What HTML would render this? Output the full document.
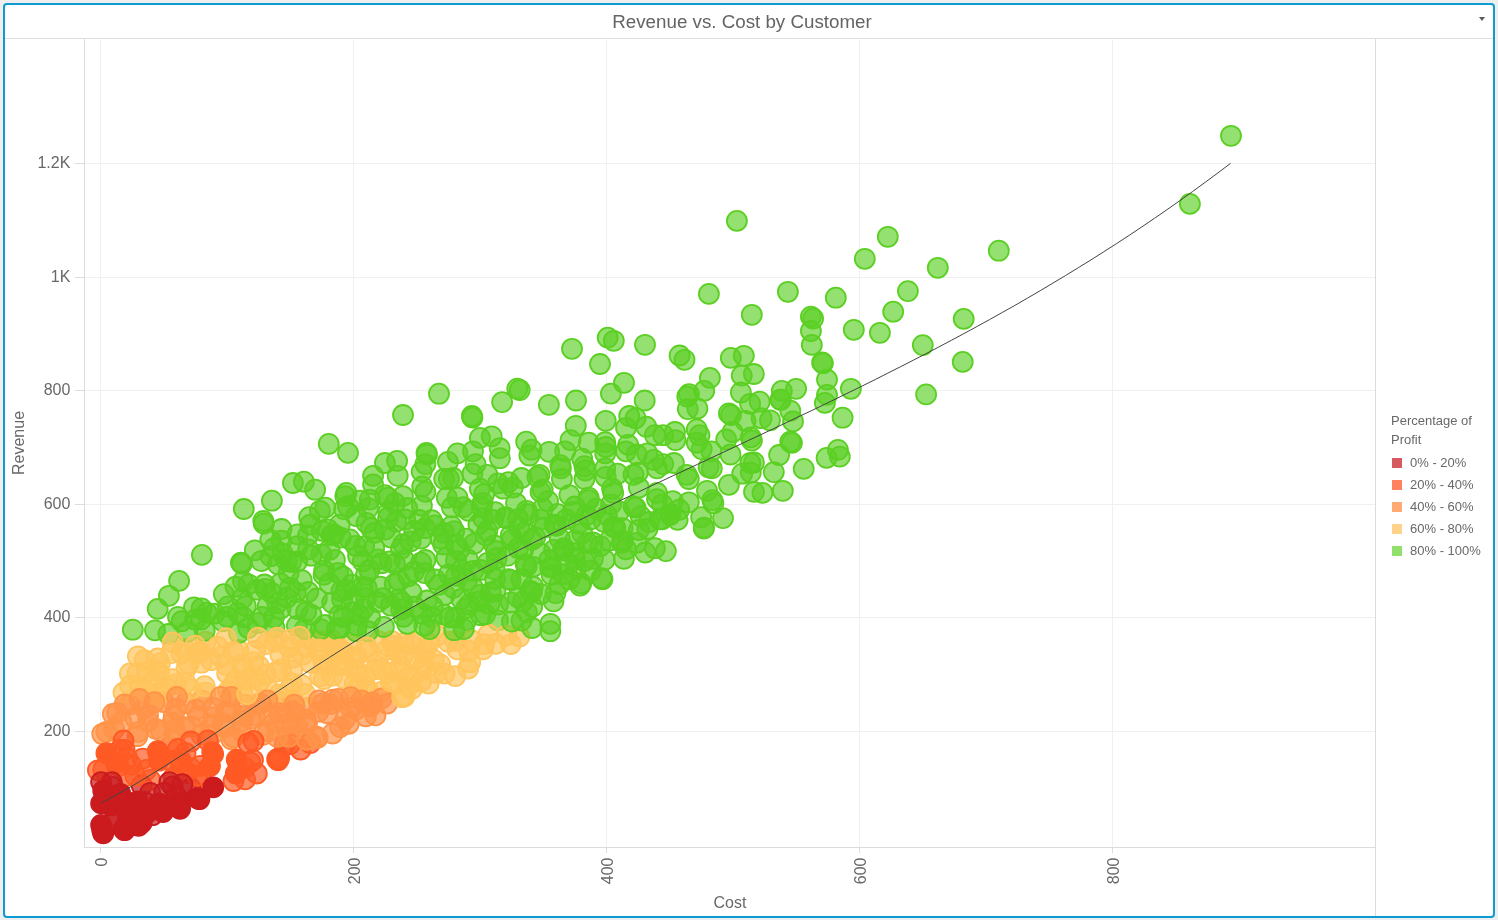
<!DOCTYPE html>
<html lang="en">
<head>
<meta charset="utf-8">
<title>Revenue vs. Cost by Customer</title>
<style>
html,body{margin:0;padding:0;}
body{width:1498px;height:920px;background:#eeeeee;overflow:hidden;position:relative;font-family:"Liberation Sans",Arial,Helvetica,sans-serif;color:#6d6d6d;}
#card{position:absolute;left:3px;top:3px;width:1488px;height:911px;border:2px solid #0d9bd0;border-radius:4px;background:#fff;}
#title{position:absolute;left:0;top:0;width:1488px;height:33px;border-bottom:1px solid #dedede;color:#646464;}
#title span{position:absolute;left:0;top:0;width:1474px;text-align:center;font-size:18.75px;line-height:34px;white-space:nowrap;}
#caret{position:absolute;left:1474px;top:12px;width:0;height:0;border-left:3.6px solid transparent;border-right:3.6px solid transparent;border-top:4px solid #5c5c5c;}
svg{position:absolute;left:0;top:0;}
svg text{font-family:"Liberation Sans",Arial,Helvetica,sans-serif;fill:#686868;}
.ax{font-size:16px;}
.lg{font-size:13px;}
circle{stroke-width:1.8;}
.r{fill:rgba(203,27,31,0.7);stroke:#cb1b1f;}
.o{fill:rgba(255,90,36,0.7);stroke:#ff5a24;}
.a{fill:rgba(255,147,72,0.7);stroke:#ff9348;}
.y{fill:rgba(255,196,92,0.7);stroke:#ffc45c;}
.g{fill:rgba(91,208,35,0.65);stroke:#5bd023;}
.r.s{fill:#cb1b1f;}
.o.s{fill:#ff5a24;}
.a.s{fill:#ff9348;}
.y.s{fill:#ffc45c;}
.g.s{fill:#5bd023;}
</style>
</head>
<body>
<div id="card">
  <div id="title"><span>Revenue vs. Cost by Customer</span></div>
  <div id="caret"></div>
</div>
<svg width="1498" height="920" viewBox="0 0 1498 920">
  <g id="grid" shape-rendering="crispEdges" stroke="#f0f0f0" stroke-width="1" fill="none">
    <path d="M100.5 40V847M353.5 40V847M606.5 40V847M859.5 40V847M1112.5 40V847"/>
    <path d="M85 163.5H1375M85 277.5H1375M85 390.5H1375M85 504.5H1375M85 617.5H1375M85 731.5H1375"/>
  </g>
  <g id="axes" shape-rendering="crispEdges" stroke="#dcdcdc" stroke-width="1" fill="none">
    <path d="M84.5 39V848M1375.5 39V916M84 847.5H1375"/>
    <path d="M75 163.5H84M75 277.5H84M75 390.5H84M75 504.5H84M75 617.5H84M75 731.5H84"/>
    <path d="M100.5 848V853M353.5 848V853M606.5 848V853M859.5 848V853M1112.5 848V853"/>
  </g>
  <g id="ylabels" class="ax" text-anchor="end">
    <text x="70.4" y="168">1.2K</text>
    <text x="70.4" y="282">1K</text>
    <text x="70.4" y="395">800</text>
    <text x="70.4" y="509">600</text>
    <text x="70.4" y="622">400</text>
    <text x="70.4" y="736">200</text>
  </g>
  <g id="xlabels" class="ax" text-anchor="end">
    <text transform="translate(107,857.5) rotate(-90)">0</text>
    <text transform="translate(360,857.5) rotate(-90)">200</text>
    <text transform="translate(613,857.5) rotate(-90)">400</text>
    <text transform="translate(866,857.5) rotate(-90)">600</text>
    <text transform="translate(1119,857.5) rotate(-90)">800</text>
  </g>
  <text class="ax" text-anchor="middle" x="730" y="908">Cost</text>
  <text class="ax" text-anchor="middle" transform="translate(24,443) rotate(-90)">Revenue</text>
  <g id="points">
<circle class="o" cx="168.6" cy="747.4" r="10"/>
<circle class="g" cx="378.0" cy="559.4" r="10"/>
<circle class="y" cx="444.6" cy="673.6" r="10"/>
<circle class="g" cx="342.1" cy="599.3" r="10"/>
<circle class="y" cx="276.7" cy="671.6" r="10"/>
<circle class="y" cx="306.2" cy="647.0" r="10"/>
<circle class="a" cx="213.6" cy="717.3" r="10"/>
<circle class="g" cx="518.0" cy="597.4" r="10"/>
<circle class="g" cx="496.2" cy="551.0" r="10"/>
<circle class="y" cx="344.1" cy="652.4" r="10"/>
<circle class="g" cx="349.8" cy="539.4" r="10"/>
<circle class="g" cx="456.2" cy="544.9" r="10"/>
<circle class="y" cx="140.2" cy="686.7" r="10"/>
<circle class="g" cx="438.7" cy="584.8" r="10"/>
<circle class="g" cx="277.4" cy="603.2" r="10"/>
<circle class="a" cx="129.3" cy="704.7" r="10"/>
<circle class="g" cx="487.4" cy="530.9" r="10"/>
<circle class="g" cx="267.7" cy="605.7" r="10"/>
<circle class="y" cx="448.3" cy="641.9" r="10"/>
<circle class="g" cx="344.1" cy="509.1" r="10"/>
<circle class="y" cx="352.7" cy="658.9" r="10"/>
<circle class="g" cx="419.2" cy="520.0" r="10"/>
<circle class="g" cx="495.4" cy="591.0" r="10"/>
<circle class="g" cx="404.4" cy="560.1" r="10"/>
<circle class="g" cx="532.9" cy="586.5" r="10"/>
<circle class="g" cx="443.8" cy="532.8" r="10"/>
<circle class="y" cx="184.2" cy="649.0" r="10"/>
<circle class="g" cx="385.1" cy="529.6" r="10"/>
<circle class="y" cx="365.4" cy="686.8" r="10"/>
<circle class="g" cx="286.8" cy="597.7" r="10"/>
<circle class="g" cx="619.2" cy="511.5" r="10"/>
<circle class="a" cx="230.6" cy="709.8" r="10"/>
<circle class="g" cx="551.6" cy="574.9" r="10"/>
<circle class="y" cx="377.4" cy="661.7" r="10"/>
<circle class="y" cx="423.2" cy="665.9" r="10"/>
<circle class="g" cx="421.1" cy="562.7" r="10"/>
<circle class="g" cx="540.8" cy="594.0" r="10"/>
<circle class="g" cx="403.6" cy="616.9" r="10"/>
<circle class="g" cx="401.2" cy="609.4" r="10"/>
<circle class="y" cx="320.9" cy="641.5" r="10"/>
<circle class="g" cx="280.6" cy="608.7" r="10"/>
<circle class="g" cx="586.6" cy="515.1" r="10"/>
<circle class="g" cx="347.9" cy="506.2" r="10"/>
<circle class="y" cx="433.8" cy="659.8" r="10"/>
<circle class="g" cx="640.6" cy="516.1" r="10"/>
<circle class="g" cx="410.6" cy="541.4" r="10"/>
<circle class="g" cx="370.2" cy="617.6" r="10"/>
<circle class="g" cx="487.5" cy="562.9" r="10"/>
<circle class="g" cx="371.1" cy="528.2" r="10"/>
<circle class="g" cx="328.1" cy="529.5" r="10"/>
<circle class="g" cx="498.0" cy="620.4" r="10"/>
<circle class="a" cx="212.1" cy="734.8" r="10"/>
<circle class="g" cx="195.1" cy="619.6" r="10"/>
<circle class="y" cx="381.1" cy="668.9" r="10"/>
<circle class="y" cx="388.0" cy="672.6" r="10"/>
<circle class="g" cx="444.9" cy="594.8" r="10"/>
<circle class="y" cx="246.8" cy="679.9" r="10"/>
<circle class="g" cx="296.9" cy="625.8" r="10"/>
<circle class="o" cx="146.2" cy="770.0" r="10"/>
<circle class="g" cx="366.0" cy="597.8" r="10"/>
<circle class="g" cx="533.0" cy="566.9" r="10"/>
<circle class="g" cx="245.9" cy="606.0" r="10"/>
<circle class="y" cx="343.3" cy="665.4" r="10"/>
<circle class="g" cx="405.2" cy="519.5" r="10"/>
<circle class="g" cx="346.1" cy="589.8" r="10"/>
<circle class="g" cx="391.0" cy="537.6" r="10"/>
<circle class="y" cx="323.0" cy="660.0" r="10"/>
<circle class="g" cx="490.7" cy="592.4" r="10"/>
<circle class="g" cx="446.4" cy="557.8" r="10"/>
<circle class="g" cx="574.7" cy="558.0" r="10"/>
<circle class="r" cx="170.5" cy="805.2" r="10"/>
<circle class="y" cx="292.7" cy="657.7" r="10"/>
<circle class="y" cx="130.2" cy="685.6" r="10"/>
<circle class="g" cx="480.5" cy="594.8" r="10"/>
<circle class="g" cx="425.5" cy="560.0" r="10"/>
<circle class="r" cx="176.3" cy="796.2" r="10"/>
<circle class="g" cx="424.7" cy="573.1" r="10"/>
<circle class="g" cx="369.8" cy="499.7" r="10"/>
<circle class="g" cx="443.9" cy="614.6" r="10"/>
<circle class="g" cx="466.5" cy="620.1" r="10"/>
<circle class="y" cx="428.5" cy="643.7" r="10"/>
<circle class="y" cx="330.8" cy="644.3" r="10"/>
<circle class="a" cx="318.4" cy="711.9" r="10"/>
<circle class="g" cx="363.5" cy="608.8" r="10"/>
<circle class="a" cx="175.0" cy="735.4" r="10"/>
<circle class="o" cx="119.6" cy="749.9" r="10"/>
<circle class="a" cx="292.3" cy="700.1" r="10"/>
<circle class="y" cx="395.7" cy="650.8" r="10"/>
<circle class="g" cx="329.5" cy="549.8" r="10"/>
<circle class="o" cx="200.8" cy="779.1" r="10"/>
<circle class="g" cx="431.9" cy="617.0" r="10"/>
<circle class="y" cx="292.1" cy="683.4" r="10"/>
<circle class="g" cx="381.6" cy="563.2" r="10"/>
<circle class="y" cx="357.3" cy="688.9" r="10"/>
<circle class="y" cx="172.7" cy="679.2" r="10"/>
<circle class="g" cx="466.9" cy="580.4" r="10"/>
<circle class="r" cx="144.8" cy="801.9" r="10"/>
<circle class="o" cx="187.4" cy="772.9" r="10"/>
<circle class="g" cx="274.4" cy="627.7" r="10"/>
<circle class="y" cx="253.3" cy="662.1" r="10"/>
<circle class="g" cx="332.2" cy="602.8" r="10"/>
<circle class="g" cx="366.5" cy="522.9" r="10"/>
<circle class="y" cx="266.2" cy="644.1" r="10"/>
<circle class="g" cx="559.5" cy="584.4" r="10"/>
<circle class="g" cx="407.1" cy="508.0" r="10"/>
<circle class="y" cx="393.6" cy="684.7" r="10"/>
<circle class="g" cx="396.3" cy="521.6" r="10"/>
<circle class="o" cx="118.5" cy="766.1" r="10"/>
<circle class="y" cx="415.4" cy="642.6" r="10"/>
<circle class="g" cx="523.0" cy="601.2" r="10"/>
<circle class="y" cx="302.6" cy="654.7" r="10"/>
<circle class="g" cx="563.3" cy="574.5" r="10"/>
<circle class="g" cx="544.3" cy="527.6" r="10"/>
<circle class="g" cx="297.1" cy="561.5" r="10"/>
<circle class="y" cx="144.5" cy="660.1" r="10"/>
<circle class="r" cx="128.0" cy="819.4" r="10"/>
<circle class="g" cx="622.6" cy="528.1" r="10"/>
<circle class="y" cx="238.3" cy="649.9" r="10"/>
<circle class="g" cx="358.1" cy="556.0" r="10"/>
<circle class="a" cx="307.0" cy="707.8" r="10"/>
<circle class="y" cx="188.7" cy="663.5" r="10"/>
<circle class="y" cx="301.5" cy="684.8" r="10"/>
<circle class="r" cx="116.7" cy="796.6" r="10"/>
<circle class="a" cx="241.5" cy="730.7" r="10"/>
<circle class="g" cx="382.8" cy="598.2" r="10"/>
<circle class="y" cx="220.5" cy="656.9" r="10"/>
<circle class="a" cx="292.4" cy="724.4" r="10"/>
<circle class="g" cx="316.8" cy="598.5" r="10"/>
<circle class="y" cx="228.0" cy="691.1" r="10"/>
<circle class="g" cx="352.1" cy="612.1" r="10"/>
<circle class="a" cx="356.3" cy="709.4" r="10"/>
<circle class="a" cx="297.1" cy="726.7" r="10"/>
<circle class="g" cx="343.1" cy="576.6" r="10"/>
<circle class="y" cx="337.4" cy="665.1" r="10"/>
<circle class="g" cx="389.7" cy="561.3" r="10"/>
<circle class="g" cx="369.4" cy="570.0" r="10"/>
<circle class="y" cx="333.1" cy="657.6" r="10"/>
<circle class="y" cx="351.2" cy="645.1" r="10"/>
<circle class="g" cx="443.2" cy="544.5" r="10"/>
<circle class="y" cx="290.8" cy="639.7" r="10"/>
<circle class="y" cx="420.5" cy="670.8" r="10"/>
<circle class="g" cx="359.2" cy="615.2" r="10"/>
<circle class="g" cx="402.2" cy="602.8" r="10"/>
<circle class="y" cx="356.5" cy="656.3" r="10"/>
<circle class="a" cx="278.9" cy="701.6" r="10"/>
<circle class="a" cx="155.8" cy="728.9" r="10"/>
<circle class="y" cx="210.8" cy="660.2" r="10"/>
<circle class="y" cx="244.7" cy="669.9" r="10"/>
<circle class="a" cx="256.0" cy="704.3" r="10"/>
<circle class="g" cx="356.1" cy="516.0" r="10"/>
<circle class="g" cx="398.9" cy="599.2" r="10"/>
<circle class="o" cx="127.1" cy="757.7" r="10"/>
<circle class="g" cx="388.5" cy="512.0" r="10"/>
<circle class="g" cx="489.5" cy="604.1" r="10"/>
<circle class="g" cx="399.2" cy="580.7" r="10"/>
<circle class="y" cx="378.9" cy="641.4" r="10"/>
<circle class="g" cx="451.6" cy="526.2" r="10"/>
<circle class="a" cx="135.4" cy="718.0" r="10"/>
<circle class="g" cx="523.2" cy="549.7" r="10"/>
<circle class="o" cx="200.4" cy="765.8" r="10"/>
<circle class="g" cx="578.4" cy="523.6" r="10"/>
<circle class="g" cx="461.5" cy="570.2" r="10"/>
<circle class="y" cx="408.3" cy="686.4" r="10"/>
<circle class="g" cx="482.6" cy="502.8" r="10"/>
<circle class="y" cx="258.8" cy="665.9" r="10"/>
<circle class="a" cx="262.9" cy="734.9" r="10"/>
<circle class="y" cx="205.2" cy="692.7" r="10"/>
<circle class="y" cx="495.7" cy="643.9" r="10"/>
<circle class="r" cx="141.7" cy="785.5" r="10"/>
<circle class="o" cx="127.1" cy="775.9" r="10"/>
<circle class="a" cx="114.1" cy="729.2" r="10"/>
<circle class="g" cx="468.5" cy="510.9" r="10"/>
<circle class="y" cx="392.0" cy="641.1" r="10"/>
<circle class="g" cx="414.2" cy="571.3" r="10"/>
<circle class="y" cx="166.3" cy="687.9" r="10"/>
<circle class="y" cx="255.6" cy="676.9" r="10"/>
<circle class="a" cx="172.6" cy="722.5" r="10"/>
<circle class="y" cx="205.6" cy="641.7" r="10"/>
<circle class="g" cx="456.1" cy="575.8" r="10"/>
<circle class="a" cx="268.4" cy="731.2" r="10"/>
<circle class="g" cx="394.9" cy="563.9" r="10"/>
<circle class="y" cx="320.1" cy="676.2" r="10"/>
<circle class="y" cx="344.3" cy="678.2" r="10"/>
<circle class="g" cx="473.5" cy="588.7" r="10"/>
<circle class="y" cx="399.0" cy="671.5" r="10"/>
<circle class="y" cx="151.8" cy="681.6" r="10"/>
<circle class="g" cx="459.2" cy="549.7" r="10"/>
<circle class="g" cx="390.9" cy="605.7" r="10"/>
<circle class="g" cx="295.8" cy="592.4" r="10"/>
<circle class="y" cx="368.4" cy="651.7" r="10"/>
<circle class="g" cx="257.7" cy="623.2" r="10"/>
<circle class="a" cx="332.9" cy="699.7" r="10"/>
<circle class="g" cx="395.0" cy="503.1" r="10"/>
<circle class="g" cx="340.8" cy="537.6" r="10"/>
<circle class="a" cx="285.0" cy="713.1" r="10"/>
<circle class="y" cx="423.0" cy="652.8" r="10"/>
<circle class="g" cx="339.2" cy="615.4" r="10"/>
<circle class="g" cx="343.4" cy="617.3" r="10"/>
<circle class="g" cx="228.0" cy="606.4" r="10"/>
<circle class="a" cx="186.1" cy="702.8" r="10"/>
<circle class="y" cx="358.6" cy="672.8" r="10"/>
<circle class="g" cx="377.8" cy="602.0" r="10"/>
<circle class="y" cx="274.8" cy="641.9" r="10"/>
<circle class="g" cx="368.1" cy="508.1" r="10"/>
<circle class="y" cx="292.1" cy="670.7" r="10"/>
<circle class="a" cx="224.7" cy="727.1" r="10"/>
<circle class="y" cx="323.9" cy="679.0" r="10"/>
<circle class="g" cx="427.0" cy="600.5" r="10"/>
<circle class="g" cx="262.2" cy="617.0" r="10"/>
<circle class="g" cx="308.0" cy="535.4" r="10"/>
<circle class="y" cx="280.4" cy="654.4" r="10"/>
<circle class="y" cx="311.0" cy="640.0" r="10"/>
<circle class="y" cx="332.3" cy="675.7" r="10"/>
<circle class="y" cx="332.1" cy="640.3" r="10"/>
<circle class="g" cx="649.0" cy="522.0" r="10"/>
<circle class="g" cx="414.1" cy="531.0" r="10"/>
<circle class="g" cx="365.9" cy="575.1" r="10"/>
<circle class="g" cx="480.3" cy="570.0" r="10"/>
<circle class="y" cx="324.1" cy="664.3" r="10"/>
<circle class="o" cx="185.5" cy="752.9" r="10"/>
<circle class="g" cx="495.3" cy="512.1" r="10"/>
<circle class="g" cx="448.9" cy="574.3" r="10"/>
<circle class="g" cx="494.5" cy="569.3" r="10"/>
<circle class="y" cx="469.2" cy="651.0" r="10"/>
<circle class="y" cx="355.0" cy="669.1" r="10"/>
<circle class="y" cx="279.5" cy="694.3" r="10"/>
<circle class="y" cx="181.4" cy="653.6" r="10"/>
<circle class="r" cx="112.9" cy="787.0" r="10"/>
<circle class="g" cx="485.7" cy="535.3" r="10"/>
<circle class="y" cx="265.6" cy="674.4" r="10"/>
<circle class="g" cx="478.4" cy="524.6" r="10"/>
<circle class="g" cx="493.1" cy="519.8" r="10"/>
<circle class="a" cx="163.4" cy="702.0" r="10"/>
<circle class="g" cx="554.2" cy="549.8" r="10"/>
<circle class="y" cx="354.8" cy="683.3" r="10"/>
<circle class="g" cx="341.3" cy="591.1" r="10"/>
<circle class="y" cx="235.3" cy="680.7" r="10"/>
<circle class="g" cx="321.4" cy="554.3" r="10"/>
<circle class="g" cx="574.3" cy="553.1" r="10"/>
<circle class="g" cx="321.9" cy="530.9" r="10"/>
<circle class="g" cx="494.4" cy="545.3" r="10"/>
<circle class="g" cx="364.2" cy="546.1" r="10"/>
<circle class="g" cx="270.7" cy="556.4" r="10"/>
<circle class="g" cx="362.3" cy="587.0" r="10"/>
<circle class="g" cx="466.0" cy="608.4" r="10"/>
<circle class="y" cx="310.5" cy="662.7" r="10"/>
<circle class="g" cx="557.5" cy="513.9" r="10"/>
<circle class="y" cx="403.1" cy="655.2" r="10"/>
<circle class="g" cx="403.1" cy="544.1" r="10"/>
<circle class="g" cx="592.9" cy="542.5" r="10"/>
<circle class="a" cx="274.6" cy="722.1" r="10"/>
<circle class="g" cx="306.1" cy="611.9" r="10"/>
<circle class="y" cx="400.6" cy="666.5" r="10"/>
<circle class="y" cx="267.8" cy="688.2" r="10"/>
<circle class="g" cx="278.0" cy="564.4" r="10"/>
<circle class="y" cx="381.4" cy="691.8" r="10"/>
<circle class="g" cx="451.8" cy="507.4" r="10"/>
<circle class="g" cx="425.1" cy="528.2" r="10"/>
<circle class="g" cx="421.1" cy="538.6" r="10"/>
<circle class="g" cx="463.2" cy="507.2" r="10"/>
<circle class="y" cx="368.2" cy="690.6" r="10"/>
<circle class="g" cx="483.0" cy="518.1" r="10"/>
<circle class="r" cx="125.2" cy="806.3" r="10"/>
<circle class="g" cx="374.2" cy="547.6" r="10"/>
<circle class="g" cx="603.8" cy="521.8" r="10"/>
<circle class="g" cx="394.7" cy="584.0" r="10"/>
<circle class="g" cx="456.0" cy="560.8" r="10"/>
<circle class="g" cx="454.2" cy="531.1" r="10"/>
<circle class="g" cx="366.6" cy="587.6" r="10"/>
<circle class="g" cx="435.1" cy="579.4" r="10"/>
<circle class="y" cx="255.1" cy="650.8" r="10"/>
<circle class="g" cx="201.0" cy="619.5" r="10"/>
<circle class="g" cx="270.3" cy="539.8" r="10"/>
<circle class="g" cx="243.4" cy="617.4" r="10"/>
<circle class="g" cx="325.0" cy="625.0" r="10"/>
<circle class="g" cx="474.1" cy="543.8" r="10"/>
<circle class="g" cx="323.6" cy="574.9" r="10"/>
<circle class="a" cx="294.9" cy="711.1" r="10"/>
<circle class="g" cx="575.9" cy="569.0" r="10"/>
<circle class="g" cx="248.6" cy="584.3" r="10"/>
<circle class="g" cx="353.6" cy="600.2" r="10"/>
<circle class="g" cx="481.6" cy="507.4" r="10"/>
<circle class="y" cx="305.4" cy="694.2" r="10"/>
<circle class="g" cx="524.1" cy="532.4" r="10"/>
<circle class="g" cx="518.0" cy="518.8" r="10"/>
<circle class="g" cx="440.4" cy="538.5" r="10"/>
<circle class="y" cx="289.8" cy="689.0" r="10"/>
<circle class="r" cx="190.7" cy="788.4" r="10"/>
<circle class="y" cx="365.5" cy="675.8" r="10"/>
<circle class="g" cx="380.3" cy="586.7" r="10"/>
<circle class="g" cx="467.8" cy="559.5" r="10"/>
<circle class="g" cx="609.4" cy="540.5" r="10"/>
<circle class="g" cx="374.4" cy="532.9" r="10"/>
<circle class="g" cx="478.9" cy="601.4" r="10"/>
<circle class="g" cx="421.9" cy="505.8" r="10"/>
<circle class="r" cx="113.8" cy="822.5" r="10"/>
<circle class="g" cx="355.7" cy="545.8" r="10"/>
<circle class="a" cx="144.7" cy="708.2" r="10"/>
<circle class="y" cx="260.2" cy="680.7" r="10"/>
<circle class="g" cx="359.9" cy="500.6" r="10"/>
<circle class="g" cx="455.0" cy="617.9" r="10"/>
<circle class="a" cx="338.1" cy="698.9" r="10"/>
<circle class="y" cx="471.7" cy="640.5" r="10"/>
<circle class="g" cx="453.3" cy="587.8" r="10"/>
<circle class="a" cx="370.2" cy="706.7" r="10"/>
<circle class="a" cx="201.2" cy="734.7" r="10"/>
<circle class="y" cx="281.1" cy="669.3" r="10"/>
<circle class="y" cx="386.7" cy="649.9" r="10"/>
<circle class="g" cx="466.2" cy="538.6" r="10"/>
<circle class="g" cx="388.1" cy="517.8" r="10"/>
<circle class="g" cx="362.8" cy="561.2" r="10"/>
<circle class="o" cx="131.2" cy="764.7" r="10"/>
<circle class="g" cx="271.5" cy="593.0" r="10"/>
<circle class="g" cx="431.7" cy="520.2" r="10"/>
<circle class="g" cx="288.6" cy="573.3" r="10"/>
<circle class="g" cx="473.4" cy="570.8" r="10"/>
<circle class="y" cx="289.3" cy="647.4" r="10"/>
<circle class="g" cx="401.0" cy="548.7" r="10"/>
<circle class="g" cx="297.6" cy="609.0" r="10"/>
<circle class="o" cx="173.6" cy="777.1" r="10"/>
<circle class="g" cx="422.1" cy="613.8" r="10"/>
<circle class="y" cx="403.8" cy="643.2" r="10"/>
<circle class="g" cx="496.6" cy="558.2" r="10"/>
<circle class="a" cx="201.8" cy="700.3" r="10"/>
<circle class="y" cx="375.8" cy="669.2" r="10"/>
<circle class="g" cx="351.6" cy="584.7" r="10"/>
<circle class="g" cx="256.7" cy="589.6" r="10"/>
<circle class="g" cx="356.9" cy="625.3" r="10"/>
<circle class="y" cx="159.9" cy="663.4" r="10"/>
<circle class="g" cx="461.3" cy="599.0" r="10"/>
<circle class="a" cx="184.9" cy="727.1" r="10"/>
<circle class="g" cx="495.1" cy="579.0" r="10"/>
<circle class="a" cx="329.7" cy="704.2" r="10"/>
<circle class="g" cx="311.5" cy="614.9" r="10"/>
<circle class="g" cx="411.5" cy="592.4" r="10"/>
<circle class="o" cx="170.9" cy="760.8" r="10"/>
<circle class="g" cx="434.5" cy="525.3" r="10"/>
<circle class="g" cx="408.3" cy="576.3" r="10"/>
<circle class="g" cx="227.4" cy="616.9" r="10"/>
<circle class="g" cx="1231.0" cy="135.8" r="10"/>
<circle class="g" cx="1189.9" cy="203.9" r="10"/>
<circle class="g" cx="998.8" cy="250.7" r="10"/>
<circle class="g" cx="937.8" cy="267.8" r="10"/>
<circle class="g" cx="907.9" cy="291.1" r="10"/>
<circle class="g" cx="963.7" cy="318.9" r="10"/>
<circle class="g" cx="922.8" cy="345.1" r="10"/>
<circle class="g" cx="962.7" cy="361.9" r="10"/>
<circle class="g" cx="736.9" cy="220.9" r="10"/>
<circle class="g" cx="887.8" cy="236.8" r="10"/>
<circle class="g" cx="864.8" cy="258.8" r="10"/>
<circle class="g" cx="708.9" cy="293.9" r="10"/>
<circle class="g" cx="787.9" cy="291.8" r="10"/>
<circle class="g" cx="835.8" cy="297.7" r="10"/>
<circle class="g" cx="751.8" cy="314.8" r="10"/>
<circle class="g" cx="810.9" cy="316.6" r="10"/>
<circle class="g" cx="813.1" cy="318.5" r="10"/>
<circle class="g" cx="810.9" cy="331.0" r="10"/>
<circle class="g" cx="811.8" cy="344.9" r="10"/>
<circle class="g" cx="853.8" cy="329.8" r="10"/>
<circle class="g" cx="879.9" cy="332.8" r="10"/>
<circle class="g" cx="893.2" cy="311.7" r="10"/>
<circle class="g" cx="822.1" cy="362.4" r="10"/>
<circle class="g" cx="822.9" cy="363.2" r="10"/>
<circle class="g" cx="827.0" cy="379.6" r="10"/>
<circle class="g" cx="827.0" cy="394.9" r="10"/>
<circle class="g" cx="850.9" cy="388.8" r="10"/>
<circle class="g" cx="679.6" cy="355.5" r="10"/>
<circle class="g" cx="684.5" cy="359.8" r="10"/>
<circle class="g" cx="709.9" cy="377.9" r="10"/>
<circle class="g" cx="730.8" cy="357.9" r="10"/>
<circle class="g" cx="743.8" cy="355.8" r="10"/>
<circle class="g" cx="741.7" cy="375.6" r="10"/>
<circle class="g" cx="753.9" cy="374.0" r="10"/>
<circle class="g" cx="740.9" cy="392.5" r="10"/>
<circle class="g" cx="704.2" cy="390.9" r="10"/>
<circle class="g" cx="689.0" cy="394.1" r="10"/>
<circle class="g" cx="687.3" cy="396.5" r="10"/>
<circle class="g" cx="781.8" cy="390.9" r="10"/>
<circle class="g" cx="796.1" cy="388.8" r="10"/>
<circle class="g" cx="780.6" cy="399.7" r="10"/>
<circle class="g" cx="824.9" cy="402.9" r="10"/>
<circle class="g" cx="842.6" cy="417.7" r="10"/>
<circle class="g" cx="687.8" cy="409.1" r="10"/>
<circle class="g" cx="697.4" cy="408.5" r="10"/>
<circle class="g" cx="728.9" cy="413.4" r="10"/>
<circle class="g" cx="731.0" cy="415.0" r="10"/>
<circle class="g" cx="675.0" cy="432.0" r="10"/>
<circle class="g" cx="675.5" cy="440.1" r="10"/>
<circle class="g" cx="663.2" cy="435.2" r="10"/>
<circle class="g" cx="696.8" cy="429.4" r="10"/>
<circle class="g" cx="699.5" cy="435.2" r="10"/>
<circle class="g" cx="696.8" cy="442.7" r="10"/>
<circle class="g" cx="701.7" cy="449.1" r="10"/>
<circle class="g" cx="726.2" cy="439.5" r="10"/>
<circle class="g" cx="732.6" cy="432.0" r="10"/>
<circle class="g" cx="750.8" cy="437.4" r="10"/>
<circle class="g" cx="751.9" cy="440.6" r="10"/>
<circle class="g" cx="770.0" cy="420.3" r="10"/>
<circle class="g" cx="761.5" cy="418.2" r="10"/>
<circle class="g" cx="790.3" cy="410.7" r="10"/>
<circle class="g" cx="793.0" cy="421.4" r="10"/>
<circle class="g" cx="790.3" cy="441.7" r="10"/>
<circle class="g" cx="791.9" cy="442.9" r="10"/>
<circle class="g" cx="779.1" cy="455.0" r="10"/>
<circle class="g" cx="803.7" cy="468.9" r="10"/>
<circle class="g" cx="773.8" cy="472.1" r="10"/>
<circle class="g" cx="782.8" cy="490.8" r="10"/>
<circle class="g" cx="750.3" cy="463.0" r="10"/>
<circle class="g" cx="754.0" cy="462.5" r="10"/>
<circle class="g" cx="742.2" cy="473.7" r="10"/>
<circle class="g" cx="750.8" cy="472.6" r="10"/>
<circle class="g" cx="730.5" cy="454.5" r="10"/>
<circle class="g" cx="711.8" cy="468.4" r="10"/>
<circle class="g" cx="708.6" cy="467.3" r="10"/>
<circle class="g" cx="673.9" cy="463.0" r="10"/>
<circle class="g" cx="728.9" cy="484.9" r="10"/>
<circle class="g" cx="754.0" cy="491.9" r="10"/>
<circle class="g" cx="762.5" cy="492.9" r="10"/>
<circle class="g" cx="688.8" cy="479.0" r="10"/>
<circle class="g" cx="686.7" cy="474.8" r="10"/>
<circle class="g" cx="711.3" cy="451.3" r="10"/>
<circle class="g" cx="707.0" cy="490.8" r="10"/>
<circle class="g" cx="663.2" cy="464.1" r="10"/>
<circle class="g" cx="750.1" cy="403.8" r="10"/>
<circle class="g" cx="759.7" cy="401.7" r="10"/>
<circle class="g" cx="745.5" cy="421.0" r="10"/>
<circle class="g" cx="780.6" cy="399.7" r="10"/>
<circle class="g" cx="502.1" cy="402.1" r="10"/>
<circle class="g" cx="548.9" cy="404.8" r="10"/>
<circle class="g" cx="576.0" cy="400.5" r="10"/>
<circle class="g" cx="644.7" cy="400.5" r="10"/>
<circle class="g" cx="575.8" cy="425.8" r="10"/>
<circle class="g" cx="605.7" cy="420.8" r="10"/>
<circle class="g" cx="629.2" cy="416.0" r="10"/>
<circle class="g" cx="635.6" cy="418.2" r="10"/>
<circle class="g" cx="626.0" cy="427.8" r="10"/>
<circle class="g" cx="646.3" cy="426.7" r="10"/>
<circle class="g" cx="654.9" cy="435.2" r="10"/>
<circle class="g" cx="526.2" cy="441.7" r="10"/>
<circle class="g" cx="531.5" cy="449.7" r="10"/>
<circle class="g" cx="529.4" cy="455.5" r="10"/>
<circle class="g" cx="549.1" cy="451.8" r="10"/>
<circle class="g" cx="570.5" cy="440.1" r="10"/>
<circle class="g" cx="565.2" cy="451.3" r="10"/>
<circle class="g" cx="588.7" cy="442.7" r="10"/>
<circle class="g" cx="605.2" cy="442.2" r="10"/>
<circle class="g" cx="605.7" cy="447.0" r="10"/>
<circle class="g" cx="605.2" cy="453.4" r="10"/>
<circle class="g" cx="628.2" cy="444.9" r="10"/>
<circle class="g" cx="626.0" cy="451.3" r="10"/>
<circle class="g" cx="582.2" cy="458.7" r="10"/>
<circle class="g" cx="560.3" cy="465.2" r="10"/>
<circle class="g" cx="560.9" cy="468.4" r="10"/>
<circle class="g" cx="584.4" cy="466.2" r="10"/>
<circle class="g" cx="585.4" cy="470.5" r="10"/>
<circle class="g" cx="584.4" cy="479.0" r="10"/>
<circle class="g" cx="605.2" cy="468.4" r="10"/>
<circle class="g" cx="605.7" cy="476.9" r="10"/>
<circle class="g" cx="617.5" cy="473.7" r="10"/>
<circle class="g" cx="636.7" cy="454.5" r="10"/>
<circle class="g" cx="647.4" cy="453.4" r="10"/>
<circle class="g" cx="637.8" cy="472.6" r="10"/>
<circle class="g" cx="633.5" cy="474.8" r="10"/>
<circle class="g" cx="653.8" cy="459.8" r="10"/>
<circle class="g" cx="657.0" cy="468.4" r="10"/>
<circle class="g" cx="539.5" cy="474.8" r="10"/>
<circle class="g" cx="537.4" cy="476.9" r="10"/>
<circle class="g" cx="521.4" cy="478.0" r="10"/>
<circle class="g" cx="508.5" cy="482.2" r="10"/>
<circle class="g" cx="512.8" cy="487.6" r="10"/>
<circle class="g" cx="503.2" cy="488.7" r="10"/>
<circle class="g" cx="561.9" cy="479.0" r="10"/>
<circle class="g" cx="542.7" cy="489.7" r="10"/>
<circle class="g" cx="540.6" cy="491.9" r="10"/>
<circle class="g" cx="569.4" cy="495.1" r="10"/>
<circle class="g" cx="588.7" cy="497.7" r="10"/>
<circle class="g" cx="612.1" cy="488.7" r="10"/>
<circle class="g" cx="613.2" cy="492.9" r="10"/>
<circle class="g" cx="638.9" cy="487.6" r="10"/>
<circle class="g" cx="657.0" cy="492.9" r="10"/>
<circle class="g" cx="403.0" cy="415.0" r="10"/>
<circle class="g" cx="471.9" cy="416.0" r="10"/>
<circle class="g" cx="472.4" cy="417.6" r="10"/>
<circle class="g" cx="348.0" cy="452.9" r="10"/>
<circle class="g" cx="384.9" cy="463.0" r="10"/>
<circle class="g" cx="397.1" cy="460.9" r="10"/>
<circle class="g" cx="426.5" cy="452.9" r="10"/>
<circle class="g" cx="427.0" cy="454.5" r="10"/>
<circle class="g" cx="425.4" cy="464.1" r="10"/>
<circle class="g" cx="397.7" cy="475.8" r="10"/>
<circle class="g" cx="373.1" cy="475.8" r="10"/>
<circle class="g" cx="373.1" cy="484.4" r="10"/>
<circle class="g" cx="421.7" cy="471.6" r="10"/>
<circle class="g" cx="447.9" cy="461.9" r="10"/>
<circle class="g" cx="457.5" cy="453.4" r="10"/>
<circle class="g" cx="473.0" cy="451.3" r="10"/>
<circle class="g" cx="479.9" cy="437.9" r="10"/>
<circle class="g" cx="491.7" cy="436.3" r="10"/>
<circle class="g" cx="499.7" cy="448.1" r="10"/>
<circle class="g" cx="499.9" cy="458.2" r="10"/>
<circle class="g" cx="475.6" cy="464.1" r="10"/>
<circle class="g" cx="472.4" cy="473.7" r="10"/>
<circle class="g" cx="453.2" cy="478.0" r="10"/>
<circle class="g" cx="448.9" cy="479.0" r="10"/>
<circle class="g" cx="444.1" cy="479.0" r="10"/>
<circle class="g" cx="487.4" cy="474.8" r="10"/>
<circle class="g" cx="422.2" cy="486.5" r="10"/>
<circle class="g" cx="425.4" cy="491.9" r="10"/>
<circle class="g" cx="346.4" cy="492.9" r="10"/>
<circle class="g" cx="345.3" cy="496.1" r="10"/>
<circle class="g" cx="384.9" cy="495.1" r="10"/>
<circle class="g" cx="388.1" cy="497.7" r="10"/>
<circle class="g" cx="403.0" cy="496.1" r="10"/>
<circle class="g" cx="446.8" cy="497.7" r="10"/>
<circle class="g" cx="457.5" cy="497.7" r="10"/>
<circle class="g" cx="479.9" cy="488.7" r="10"/>
<circle class="g" cx="484.2" cy="494.0" r="10"/>
<circle class="g" cx="498.1" cy="483.3" r="10"/>
<circle class="g" cx="328.8" cy="443.9" r="10"/>
<circle class="g" cx="292.9" cy="483.0" r="10"/>
<circle class="g" cx="303.9" cy="481.7" r="10"/>
<circle class="g" cx="315.1" cy="489.7" r="10"/>
<circle class="g" cx="572.0" cy="348.8" r="10"/>
<circle class="g" cx="607.7" cy="337.6" r="10"/>
<circle class="g" cx="613.8" cy="340.8" r="10"/>
<circle class="g" cx="645.0" cy="344.8" r="10"/>
<circle class="g" cx="600.0" cy="364.0" r="10"/>
<circle class="g" cx="624.0" cy="382.8" r="10"/>
<circle class="g" cx="610.9" cy="393.6" r="10"/>
<circle class="g" cx="439.0" cy="393.7" r="10"/>
<circle class="g" cx="517.3" cy="388.7" r="10"/>
<circle class="g" cx="519.7" cy="390.0" r="10"/>
<circle class="g" cx="926.1" cy="394.4" r="10"/>
<circle class="g" cx="837.9" cy="449.9" r="10"/>
<circle class="g" cx="839.8" cy="456.6" r="10"/>
<circle class="g" cx="826.6" cy="457.9" r="10"/>
<circle class="g" cx="723.0" cy="518.1" r="10"/>
<circle class="g" cx="704.0" cy="527.7" r="10"/>
<circle class="g" cx="703.8" cy="528.5" r="10"/>
<circle class="g" cx="701.1" cy="517.2" r="10"/>
<circle class="g" cx="713.4" cy="503.3" r="10"/>
<circle class="g" cx="712.3" cy="500.1" r="10"/>
<circle class="g" cx="677.6" cy="519.9" r="10"/>
<circle class="g" cx="665.9" cy="551.1" r="10"/>
<circle class="g" cx="670.7" cy="514.0" r="10"/>
<circle class="g" cx="670.1" cy="515.1" r="10"/>
<circle class="g" cx="662.1" cy="519.4" r="10"/>
<circle class="g" cx="688.8" cy="502.3" r="10"/>
<circle class="g" cx="672.8" cy="501.2" r="10"/>
<circle class="g" cx="679.2" cy="509.7" r="10"/>
<circle class="g" cx="662.1" cy="504.4" r="10"/>
<circle class="g" cx="623.9" cy="558.9" r="10"/>
<circle class="g" cx="645.3" cy="552.5" r="10"/>
<circle class="g" cx="654.9" cy="548.2" r="10"/>
<circle class="g" cx="601.5" cy="578.1" r="10"/>
<circle class="g" cx="602.5" cy="579.2" r="10"/>
<circle class="g" cx="581.2" cy="583.4" r="10"/>
<circle class="g" cx="580.1" cy="585.6" r="10"/>
<circle class="g" cx="622.8" cy="540.7" r="10"/>
<circle class="g" cx="621.8" cy="542.9" r="10"/>
<circle class="g" cx="615.4" cy="527.9" r="10"/>
<circle class="g" cx="613.2" cy="526.8" r="10"/>
<circle class="g" cx="638.9" cy="530.0" r="10"/>
<circle class="g" cx="647.4" cy="529.0" r="10"/>
<circle class="g" cx="633.5" cy="506.5" r="10"/>
<circle class="g" cx="635.6" cy="507.6" r="10"/>
<circle class="g" cx="611.1" cy="504.4" r="10"/>
<circle class="g" cx="657.0" cy="499.1" r="10"/>
<circle class="g" cx="659.7" cy="519.4" r="10"/>
<circle class="g" cx="600.4" cy="546.1" r="10"/>
<circle class="g" cx="592.9" cy="558.9" r="10"/>
<circle class="g" cx="584.4" cy="561.0" r="10"/>
<circle class="g" cx="582.2" cy="533.2" r="10"/>
<circle class="g" cx="590.8" cy="519.4" r="10"/>
<circle class="g" cx="564.1" cy="548.2" r="10"/>
<circle class="g" cx="563.0" cy="550.3" r="10"/>
<circle class="g" cx="549.1" cy="559.9" r="10"/>
<circle class="g" cx="551.3" cy="566.4" r="10"/>
<circle class="g" cx="550.2" cy="567.4" r="10"/>
<circle class="g" cx="526.7" cy="566.4" r="10"/>
<circle class="g" cx="525.6" cy="564.2" r="10"/>
<circle class="g" cx="532.0" cy="539.7" r="10"/>
<circle class="g" cx="535.2" cy="537.5" r="10"/>
<circle class="g" cx="511.7" cy="539.7" r="10"/>
<circle class="g" cx="510.7" cy="535.4" r="10"/>
<circle class="g" cx="507.5" cy="555.7" r="10"/>
<circle class="g" cx="526.7" cy="510.8" r="10"/>
<circle class="g" cx="527.8" cy="514.0" r="10"/>
<circle class="g" cx="506.4" cy="518.3" r="10"/>
<circle class="g" cx="505.3" cy="517.2" r="10"/>
<circle class="g" cx="556.6" cy="525.8" r="10"/>
<circle class="g" cx="554.5" cy="524.7" r="10"/>
<circle class="g" cx="572.6" cy="511.9" r="10"/>
<circle class="g" cx="574.8" cy="506.5" r="10"/>
<circle class="g" cx="548.1" cy="501.2" r="10"/>
<circle class="g" cx="588.7" cy="500.1" r="10"/>
<circle class="g" cx="566.2" cy="519.4" r="10"/>
<circle class="g" cx="510.7" cy="580.2" r="10"/>
<circle class="g" cx="508.5" cy="579.2" r="10"/>
<circle class="g" cx="529.9" cy="590.9" r="10"/>
<circle class="g" cx="532.0" cy="592.0" r="10"/>
<circle class="g" cx="555.5" cy="593.1" r="10"/>
<circle class="g" cx="569.4" cy="579.2" r="10"/>
<circle class="g" cx="540.6" cy="519.4" r="10"/>
<circle class="g" cx="542.7" cy="508.7" r="10"/>
<circle class="g" cx="587.6" cy="542.9" r="10"/>
<circle class="g" cx="574.8" cy="540.7" r="10"/>
<circle class="g" cx="604.7" cy="559.9" r="10"/>
<circle class="g" cx="568.4" cy="564.2" r="10"/>
<circle class="g" cx="518.2" cy="548.2" r="10"/>
<circle class="g" cx="636.7" cy="542.9" r="10"/>
<circle class="g" cx="519.2" cy="527.9" r="10"/>
<circle class="g" cx="516.0" cy="503.3" r="10"/>
<circle class="g" cx="626.0" cy="549.3" r="10"/>
<circle class="g" cx="559.8" cy="538.6" r="10"/>
<circle class="g" cx="596.1" cy="508.7" r="10"/>
<circle class="g" cx="606.8" cy="515.1" r="10"/>
<circle class="g" cx="540.6" cy="553.5" r="10"/>
<circle class="g" cx="590.8" cy="570.6" r="10"/>
<circle class="g" cx="521.4" cy="579.2" r="10"/>
<circle class="g" cx="201.9" cy="554.9" r="10"/>
<circle class="g" cx="243.8" cy="509.0" r="10"/>
<circle class="g" cx="271.9" cy="500.7" r="10"/>
<circle class="g" cx="263.3" cy="521.0" r="10"/>
<circle class="g" cx="263.8" cy="523.6" r="10"/>
<circle class="g" cx="281.5" cy="529.0" r="10"/>
<circle class="g" cx="297.5" cy="534.3" r="10"/>
<circle class="g" cx="309.2" cy="517.2" r="10"/>
<circle class="g" cx="310.3" cy="524.7" r="10"/>
<circle class="g" cx="319.9" cy="510.8" r="10"/>
<circle class="g" cx="325.3" cy="507.6" r="10"/>
<circle class="g" cx="331.7" cy="535.4" r="10"/>
<circle class="g" cx="333.8" cy="534.3" r="10"/>
<circle class="g" cx="339.7" cy="524.7" r="10"/>
<circle class="g" cx="254.8" cy="550.3" r="10"/>
<circle class="g" cx="240.9" cy="562.6" r="10"/>
<circle class="g" cx="241.9" cy="563.7" r="10"/>
<circle class="g" cx="261.2" cy="561.0" r="10"/>
<circle class="g" cx="274.0" cy="548.2" r="10"/>
<circle class="g" cx="281.5" cy="540.7" r="10"/>
<circle class="g" cx="282.5" cy="553.5" r="10"/>
<circle class="g" cx="286.8" cy="561.0" r="10"/>
<circle class="g" cx="297.5" cy="546.1" r="10"/>
<circle class="g" cx="308.2" cy="549.3" r="10"/>
<circle class="g" cx="311.4" cy="555.7" r="10"/>
<circle class="g" cx="291.1" cy="562.1" r="10"/>
<circle class="g" cx="334.9" cy="559.9" r="10"/>
<circle class="g" cx="324.2" cy="570.6" r="10"/>
<circle class="g" cx="243.0" cy="581.3" r="10"/>
<circle class="g" cx="235.5" cy="586.7" r="10"/>
<circle class="g" cx="223.8" cy="594.1" r="10"/>
<circle class="g" cx="264.4" cy="584.5" r="10"/>
<circle class="g" cx="265.4" cy="588.8" r="10"/>
<circle class="g" cx="280.4" cy="583.4" r="10"/>
<circle class="g" cx="290.0" cy="587.7" r="10"/>
<circle class="g" cx="301.8" cy="580.2" r="10"/>
<circle class="g" cx="308.2" cy="592.0" r="10"/>
<circle class="g" cx="329.5" cy="583.4" r="10"/>
<circle class="g" cx="338.1" cy="572.8" r="10"/>
<circle class="g" cx="179.1" cy="580.9" r="10"/>
<circle class="g" cx="168.9" cy="595.8" r="10"/>
<circle class="g" cx="157.7" cy="608.9" r="10"/>
<circle class="g" cx="132.8" cy="629.7" r="10"/>
<circle class="g" cx="155.0" cy="630.3" r="10"/>
<circle class="g" cx="178.0" cy="616.9" r="10"/>
<circle class="g" cx="181.7" cy="621.2" r="10"/>
<circle class="g" cx="194.0" cy="607.3" r="10"/>
<circle class="g" cx="201.5" cy="608.4" r="10"/>
<circle class="g" cx="206.8" cy="612.6" r="10"/>
<circle class="g" cx="214.3" cy="613.7" r="10"/>
<circle class="g" cx="242.1" cy="598.7" r="10"/>
<circle class="g" cx="237.8" cy="612.6" r="10"/>
<circle class="g" cx="168.4" cy="634.0" r="10"/>
<circle class="g" cx="204.7" cy="630.8" r="10"/>
<circle class="g" cx="222.9" cy="621.2" r="10"/>
<circle class="g" cx="238.9" cy="632.9" r="10"/>
<circle class="g" cx="187.6" cy="631.7" r="10"/>
<circle class="y" cx="137.9" cy="656.3" r="10"/>
<circle class="y" cx="157.7" cy="658.5" r="10"/>
<circle class="y" cx="171.0" cy="653.1" r="10"/>
<circle class="y" cx="195.1" cy="645.6" r="10"/>
<circle class="y" cx="199.4" cy="652.0" r="10"/>
<circle class="y" cx="198.8" cy="653.1" r="10"/>
<circle class="y" cx="226.1" cy="638.2" r="10"/>
<circle class="y" cx="217.5" cy="646.7" r="10"/>
<circle class="y" cx="233.5" cy="652.0" r="10"/>
<circle class="y" cx="226.1" cy="664.9" r="10"/>
<circle class="y" cx="227.1" cy="673.4" r="10"/>
<circle class="y" cx="129.9" cy="673.4" r="10"/>
<circle class="y" cx="137.4" cy="673.4" r="10"/>
<circle class="y" cx="147.0" cy="672.3" r="10"/>
<circle class="y" cx="156.6" cy="670.2" r="10"/>
<circle class="y" cx="158.8" cy="672.3" r="10"/>
<circle class="y" cx="186.5" cy="668.1" r="10"/>
<circle class="y" cx="201.5" cy="662.7" r="10"/>
<circle class="y" cx="123.5" cy="692.6" r="10"/>
<circle class="y" cx="144.9" cy="690.5" r="10"/>
<circle class="y" cx="158.8" cy="692.6" r="10"/>
<circle class="y" cx="157.7" cy="694.8" r="10"/>
<circle class="y" cx="175.9" cy="684.1" r="10"/>
<circle class="y" cx="185.5" cy="683.0" r="10"/>
<circle class="y" cx="190.8" cy="689.4" r="10"/>
<circle class="y" cx="204.7" cy="686.2" r="10"/>
<circle class="y" cx="232.5" cy="686.2" r="10"/>
<circle class="y" cx="242.1" cy="692.6" r="10"/>
<circle class="y" cx="242.1" cy="664.9" r="10"/>
<circle class="y" cx="172.7" cy="642.4" r="10"/>
<circle class="a" cx="124.6" cy="704.4" r="10"/>
<circle class="a" cx="117.1" cy="712.9" r="10"/>
<circle class="a" cx="112.8" cy="714.0" r="10"/>
<circle class="a" cx="154.5" cy="702.2" r="10"/>
<circle class="a" cx="139.5" cy="699.0" r="10"/>
<circle class="a" cx="148.1" cy="715.1" r="10"/>
<circle class="a" cx="175.9" cy="708.7" r="10"/>
<circle class="a" cx="173.7" cy="716.1" r="10"/>
<circle class="a" cx="196.1" cy="709.7" r="10"/>
<circle class="a" cx="198.3" cy="716.1" r="10"/>
<circle class="a" cx="220.7" cy="696.9" r="10"/>
<circle class="a" cx="231.4" cy="696.9" r="10"/>
<circle class="a" cx="213.2" cy="707.6" r="10"/>
<circle class="a" cx="226.1" cy="711.9" r="10"/>
<circle class="a" cx="243.1" cy="716.1" r="10"/>
<circle class="a" cx="176.9" cy="696.9" r="10"/>
<circle class="a" cx="106.4" cy="731.9" r="10"/>
<circle class="a" cx="102.2" cy="734.0" r="10"/>
<circle class="a" cx="137.4" cy="736.2" r="10"/>
<circle class="a" cx="138.5" cy="731.9" r="10"/>
<circle class="a" cx="160.9" cy="730.8" r="10"/>
<circle class="a" cx="174.8" cy="728.7" r="10"/>
<circle class="a" cx="191.9" cy="726.5" r="10"/>
<circle class="a" cx="212.2" cy="724.4" r="10"/>
<circle class="a" cx="231.4" cy="739.4" r="10"/>
<circle class="a" cx="233.5" cy="737.2" r="10"/>
<circle class="a" cx="222.9" cy="723.3" r="10"/>
<circle class="a" cx="148.1" cy="721.2" r="10"/>
<circle class="a" cx="121.4" cy="722.3" r="10"/>
<circle class="a" cx="242.1" cy="721.2" r="10"/>
<circle class="o" cx="123.5" cy="740.4" r="10"/>
<circle class="o" cx="124.6" cy="750.0" r="10"/>
<circle class="o" cx="103.2" cy="769.3" r="10"/>
<circle class="o" cx="97.9" cy="770.3" r="10"/>
<circle class="o" cx="142.7" cy="758.6" r="10"/>
<circle class="o" cx="158.8" cy="753.2" r="10"/>
<circle class="o" cx="178.0" cy="749.0" r="10"/>
<circle class="o" cx="180.1" cy="758.6" r="10"/>
<circle class="o" cx="190.8" cy="741.5" r="10"/>
<circle class="o" cx="207.9" cy="740.4" r="10"/>
<circle class="o" cx="190.8" cy="768.2" r="10"/>
<circle class="o" cx="180.1" cy="762.9" r="10"/>
<circle class="o" cx="150.2" cy="779.9" r="10"/>
<circle class="o" cx="135.3" cy="775.7" r="10"/>
<circle class="o" cx="233.5" cy="781.0" r="10"/>
<circle class="o" cx="197.2" cy="775.7" r="10"/>
<circle class="o s" cx="106.4" cy="753.2" r="10"/>
<circle class="o s" cx="116.0" cy="762.9" r="10"/>
<circle class="o s" cx="157.7" cy="751.1" r="10"/>
<circle class="o s" cx="158.8" cy="760.7" r="10"/>
<circle class="o s" cx="212.2" cy="752.2" r="10"/>
<circle class="o s" cx="213.2" cy="754.3" r="10"/>
<circle class="o s" cx="210.0" cy="766.1" r="10"/>
<circle class="o s" cx="236.7" cy="759.7" r="10"/>
<circle class="o s" cx="235.7" cy="773.5" r="10"/>
<circle class="r" cx="101.1" cy="782.1" r="10"/>
<circle class="r" cx="111.8" cy="782.1" r="10"/>
<circle class="r" cx="169.4" cy="782.1" r="10"/>
<circle class="r" cx="172.7" cy="786.4" r="10"/>
<circle class="r" cx="182.3" cy="784.2" r="10"/>
<circle class="r" cx="150.2" cy="792.8" r="10"/>
<circle class="r" cx="164.1" cy="792.8" r="10"/>
<circle class="r s" cx="103.2" cy="790.6" r="10"/>
<circle class="r s" cx="120.3" cy="793.8" r="10"/>
<circle class="r s" cx="101.1" cy="803.4" r="10"/>
<circle class="r s" cx="110.7" cy="805.6" r="10"/>
<circle class="r s" cx="213.2" cy="787.4" r="10"/>
<circle class="r s" cx="197.2" cy="798.1" r="10"/>
<circle class="r s" cx="199.4" cy="799.2" r="10"/>
<circle class="r s" cx="137.4" cy="801.3" r="10"/>
<circle class="r s" cx="158.8" cy="803.4" r="10"/>
<circle class="r s" cx="178.0" cy="803.4" r="10"/>
<circle class="r s" cx="180.1" cy="808.8" r="10"/>
<circle class="r s" cx="126.7" cy="812.0" r="10"/>
<circle class="r s" cx="148.1" cy="812.0" r="10"/>
<circle class="r" cx="152.4" cy="815.2" r="10"/>
<circle class="r" cx="116.0" cy="816.3" r="10"/>
<circle class="r s" cx="101.1" cy="824.9" r="10"/>
<circle class="r s" cx="103.2" cy="833.4" r="10"/>
<circle class="r s" cx="102.2" cy="830.2" r="10"/>
<circle class="r s" cx="124.6" cy="830.2" r="10"/>
<circle class="r s" cx="123.5" cy="829.1" r="10"/>
<circle class="r s" cx="141.7" cy="822.7" r="10"/>
<circle class="r s" cx="138.5" cy="825.9" r="10"/>
<circle class="r s" cx="163.0" cy="812.0" r="10"/>
<circle class="o" cx="253.6" cy="741.0" r="10"/>
<circle class="o" cx="248.3" cy="743.1" r="10"/>
<circle class="o" cx="253.0" cy="760.0" r="10"/>
<circle class="o" cx="250.4" cy="762.4" r="10"/>
<circle class="o" cx="244.5" cy="767.7" r="10"/>
<circle class="o" cx="256.8" cy="773.5" r="10"/>
<circle class="o" cx="278.2" cy="760.2" r="10"/>
<circle class="o" cx="277.1" cy="759.2" r="10"/>
<circle class="o" cx="279.2" cy="758.1" r="10"/>
<circle class="o" cx="289.9" cy="744.2" r="10"/>
<circle class="o" cx="284.6" cy="745.3" r="10"/>
<circle class="o" cx="300.6" cy="749.5" r="10"/>
<circle class="o" cx="310.2" cy="743.1" r="10"/>
<circle class="o" cx="245.1" cy="779.4" r="10"/>
<circle class="a" cx="387.1" cy="703.6" r="10"/>
<circle class="a" cx="375.4" cy="715.4" r="10"/>
<circle class="a" cx="365.8" cy="716.4" r="10"/>
<circle class="a" cx="350.8" cy="707.9" r="10"/>
<circle class="a" cx="361.5" cy="700.4" r="10"/>
<circle class="a" cx="372.2" cy="702.5" r="10"/>
<circle class="a" cx="345.5" cy="718.6" r="10"/>
<circle class="a" cx="340.1" cy="727.1" r="10"/>
<circle class="a" cx="348.7" cy="723.9" r="10"/>
<circle class="a" cx="332.7" cy="733.5" r="10"/>
<circle class="a" cx="317.7" cy="737.8" r="10"/>
<circle class="a" cx="316.6" cy="736.7" r="10"/>
<circle class="a" cx="307.0" cy="739.9" r="10"/>
<circle class="a" cx="327.3" cy="713.2" r="10"/>
<circle class="a" cx="323.0" cy="703.6" r="10"/>
<circle class="a" cx="318.8" cy="700.4" r="10"/>
<circle class="a" cx="305.9" cy="719.6" r="10"/>
<circle class="a" cx="307.0" cy="723.9" r="10"/>
<circle class="a" cx="286.7" cy="723.9" r="10"/>
<circle class="a" cx="288.9" cy="736.7" r="10"/>
<circle class="a" cx="277.1" cy="736.7" r="10"/>
<circle class="a" cx="268.6" cy="715.4" r="10"/>
<circle class="a" cx="254.7" cy="715.4" r="10"/>
<circle class="a" cx="250.4" cy="718.6" r="10"/>
<circle class="a" cx="261.1" cy="703.6" r="10"/>
<circle class="a" cx="267.5" cy="700.4" r="10"/>
<circle class="a" cx="279.2" cy="713.2" r="10"/>
<circle class="a" cx="294.2" cy="704.7" r="10"/>
<circle class="a" cx="244.5" cy="704.7" r="10"/>
<circle class="a" cx="350.8" cy="697.2" r="10"/>
<circle class="a" cx="381.8" cy="698.3" r="10"/>
<circle class="y" cx="247.2" cy="694.0" r="10"/>
<circle class="y" cx="402.1" cy="697.2" r="10"/>
<circle class="y" cx="437.1" cy="635.5" r="10"/>
<circle class="y" cx="455.3" cy="640.9" r="10"/>
<circle class="y" cx="457.4" cy="649.4" r="10"/>
<circle class="y" cx="483.0" cy="649.4" r="10"/>
<circle class="y" cx="488.4" cy="634.5" r="10"/>
<circle class="y" cx="484.1" cy="644.1" r="10"/>
<circle class="y" cx="506.5" cy="635.5" r="10"/>
<circle class="y" cx="510.8" cy="644.1" r="10"/>
<circle class="y" cx="519.4" cy="636.6" r="10"/>
<circle class="y" cx="470.2" cy="662.2" r="10"/>
<circle class="y" cx="468.1" cy="668.6" r="10"/>
<circle class="y" cx="455.3" cy="676.1" r="10"/>
<circle class="y" cx="440.3" cy="664.4" r="10"/>
<circle class="y" cx="436.0" cy="672.9" r="10"/>
<circle class="y" cx="425.4" cy="649.4" r="10"/>
<circle class="y" cx="410.4" cy="644.1" r="10"/>
<circle class="y" cx="414.7" cy="660.1" r="10"/>
<circle class="y" cx="421.1" cy="681.4" r="10"/>
<circle class="y" cx="409.3" cy="676.1" r="10"/>
<circle class="y" cx="428.6" cy="683.6" r="10"/>
<circle class="g" cx="550.3" cy="631.2" r="10"/>
<circle class="g" cx="550.3" cy="623.8" r="10"/>
<circle class="g" cx="532.2" cy="628.0" r="10"/>
<circle class="g" cx="511.9" cy="621.6" r="10"/>
<circle class="g" cx="521.5" cy="620.6" r="10"/>
<circle class="g" cx="485.2" cy="614.2" r="10"/>
<circle class="g" cx="480.9" cy="615.2" r="10"/>
<circle class="g" cx="469.2" cy="604.5" r="10"/>
<circle class="g" cx="463.8" cy="629.1" r="10"/>
<circle class="g" cx="454.2" cy="630.2" r="10"/>
<circle class="g" cx="449.9" cy="617.4" r="10"/>
<circle class="g" cx="429.6" cy="629.1" r="10"/>
<circle class="g" cx="424.3" cy="625.9" r="10"/>
<circle class="g" cx="407.2" cy="623.8" r="10"/>
<circle class="g" cx="432.8" cy="606.7" r="10"/>
<circle class="g" cx="414.7" cy="606.7" r="10"/>
<circle class="g" cx="498.0" cy="604.5" r="10"/>
<circle class="g" cx="510.8" cy="602.4" r="10"/>
<circle class="g" cx="532.2" cy="606.7" r="10"/>
<circle class="g" cx="553.5" cy="601.3" r="10"/>
<circle class="g" cx="526.8" cy="612.0" r="10"/>
<circle class="g" cx="304.9" cy="629.1" r="10"/>
<circle class="g" cx="320.9" cy="629.1" r="10"/>
<circle class="g" cx="336.9" cy="629.1" r="10"/>
<circle class="g" cx="340.1" cy="628.0" r="10"/>
<circle class="g" cx="383.9" cy="627.0" r="10"/>
<circle class="g" cx="367.9" cy="631.2" r="10"/>
<circle class="g" cx="356.1" cy="631.2" r="10"/>
<circle class="g" cx="248.3" cy="628.0" r="10"/>
<circle class="g" cx="273.9" cy="617.4" r="10"/>
<circle class="y" cx="257.9" cy="637.7" r="10"/>
<circle class="y" cx="277.1" cy="637.7" r="10"/>
<circle class="y" cx="299.5" cy="636.6" r="10"/>
<circle class="y" cx="366.8" cy="647.3" r="10"/>
<circle class="y" cx="393.5" cy="646.2" r="10"/>
<circle class="y" cx="318.8" cy="649.4" r="10"/>
<circle class="y" cx="340.1" cy="649.4" r="10"/>
<circle class="y" cx="404.6" cy="696.3" r="10"/>
<circle class="y" cx="412.0" cy="688.8" r="10"/>
<circle class="y" cx="390.7" cy="681.4" r="10"/>
  </g>
  <path id="trend" d="M101.1 803.1 L113.8 796.3 L126.5 789.2 L139.2 781.8 L151.9 774.1 L164.6 766.3 L177.2 758.2 L189.9 750.0 L202.6 741.6 L215.3 733.2 L228.0 724.7 L240.7 716.1 L253.4 707.6 L266.1 699.1 L278.8 690.6 L291.5 682.2 L304.2 673.8 L316.8 665.5 L329.5 657.4 L342.2 649.3 L354.9 641.4 L367.6 633.6 L380.3 625.9 L393.0 618.4 L405.7 611.1 L418.4 603.8 L431.1 596.7 L443.8 589.6 L456.4 582.7 L469.1 575.9 L481.8 569.2 L494.5 562.6 L507.2 556.0 L519.9 549.6 L532.6 543.2 L545.3 536.8 L558.0 530.6 L570.7 524.4 L583.4 518.2 L596.0 512.1 L608.7 506.1 L621.4 500.0 L634.1 494.0 L646.8 488.0 L659.5 482.1 L672.2 476.1 L684.9 470.2 L697.6 464.3 L710.3 458.3 L723.0 452.4 L735.7 446.5 L748.3 440.5 L761.0 434.6 L773.7 428.6 L786.4 422.6 L799.1 416.5 L811.8 410.5 L824.5 404.4 L837.2 398.2 L849.9 392.0 L862.6 385.8 L875.3 379.5 L887.9 373.1 L900.6 366.7 L913.3 360.2 L926.0 353.7 L938.7 347.0 L951.4 340.3 L964.1 333.5 L976.8 326.6 L989.5 319.6 L1002.2 312.5 L1014.9 305.4 L1027.5 298.1 L1040.2 290.7 L1052.9 283.1 L1065.6 275.5 L1078.3 267.7 L1091.0 259.9 L1103.7 251.8 L1116.4 243.7 L1129.1 235.4 L1141.8 226.9 L1154.5 218.3 L1167.1 209.6 L1179.8 200.7 L1192.5 191.6 L1205.2 182.3 L1217.9 172.9 L1230.6 163.3" fill="none" stroke="#444" stroke-width="1"/>
  <g id="legend" class="lg">
    <text x="1391" y="425">Percentage of</text>
    <text x="1391" y="444">Profit</text>
    <rect x="1392" y="458" width="10" height="10" fill="#d65a60"/>
    <rect x="1392" y="480" width="10" height="10" fill="#ff825f"/>
    <rect x="1392" y="502" width="10" height="10" fill="#ffaa73"/>
    <rect x="1392" y="524" width="10" height="10" fill="#ffd28c"/>
    <rect x="1392" y="546" width="10" height="10" fill="#92e06c"/>
    <text x="1410" y="467">0% - 20%</text>
    <text x="1410" y="489">20% - 40%</text>
    <text x="1410" y="511">40% - 60%</text>
    <text x="1410" y="533">60% - 80%</text>
    <text x="1410" y="555">80% - 100%</text>
  </g>
</svg>
</body>
</html>
